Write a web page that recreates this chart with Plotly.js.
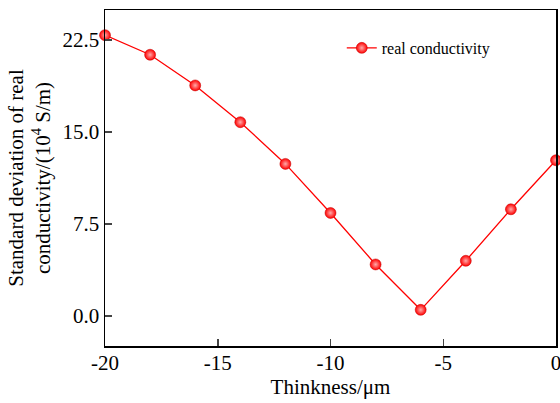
<!DOCTYPE html>
<html><head><meta charset="utf-8">
<script src="https://cdn.plot.ly/plotly-3.0.1.min.js"></script>
<style>body{margin:0;padding:0;background:#fff}</style>
</head><body>
<div id="chart" style="width:560px;height:403px"></div>
<script>
const thickness = [-20, -18, -16, -14, -12, -10, -8, -6, -4, -2, 0];
const stdConductivity = [22.9, 21.3, 18.8, 15.8, 12.4, 8.4, 4.2, 0.5, 4.5, 8.7, 12.7];
const seriesName = 'real conductivity';
const xTicks = [-20, -15, -10, -5, 0];
const xTickText = ['-20', '-15', '-10', '-5', '0'];
const yTicks = [0, 7.5, 15, 22.5];
const yTickText = ['0.0', '7.5', '15.0', '22.5'];

const font = 'Liberation Serif, Times New Roman, serif';
const trace = {
  x: thickness, y: stdConductivity, name: seriesName,
  type: 'scatter', mode: 'lines+markers',
  line: {color: '#ff0000', width: 1.3},
  marker: {size: 11, color: '#ff0000', line: {color: '#c00000', width: 0.5},
           gradient: {type: 'radial', color: '#ffaaaa'}},
  cliponaxis: false
};
const layout = {
  width: 560, height: 403,
  margin: {l: 105, r: 4, t: 10, b: 57},
  paper_bgcolor: '#fff', plot_bgcolor: '#fff',
  font: {family: font, color: '#000', size: 16},
  showlegend: true,
  legend: {x: 0.525, y: 0.887, xanchor: 'left', yanchor: 'middle', bgcolor: 'rgba(0,0,0,0)',
           font: {family: font, size: 16}},
  xaxis: {
    range: [-20, 0], tickvals: xTicks, ticktext: xTickText, ticks: 'inside', ticklen: 7, tickwidth: 1.5,
    showline: true, linecolor: '#000', linewidth: 1.5, mirror: true,
    showgrid: false, zeroline: false, ticklabeloverflow: 'allow', ticklabelstandoff: -3,
    tickfont: {family: font, size: 21},
    title: {text: 'Thinkness/μm', font: {family: font, size: 21}, standoff: 0}
  },
  yaxis: {
    range: [-2.45, 24.95], tickvals: yTicks, ticktext: yTickText, ticks: 'inside', ticklen: 7, tickwidth: 1.5,
    showline: true, linecolor: '#000', linewidth: 1.5, mirror: true,
    showgrid: false, zeroline: false,
    tickfont: {family: font, size: 21},
    title: {text: 'Standard deviation of real<br>conductivity/(10<sup>4</sup> S/m)', font: {family: font, size: 21}, standoff: 6}
  }
};
Plotly.newPlot('chart', [trace], layout, {displayModeBar: false, staticPlot: true});
</script>
</body></html>
